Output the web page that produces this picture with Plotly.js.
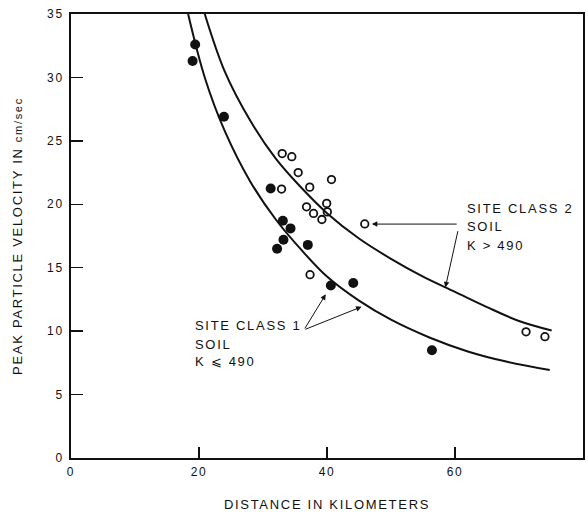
<!DOCTYPE html>
<html>
<head>
<meta charset="utf-8">
<script src="https://cdn.plot.ly/plotly-3.0.1.min.js"></script>
<style>
  html, body { margin: 0; padding: 0; background: #fff; }
  #chart { width: 588px; height: 512px; }
  #chart .main-svg text { letter-spacing: 1.7px; }
</style>
</head>
<body>
<div id="chart"></div>
<script>
// Site class 1 soil (K <= 490), filled circles
const class1X = [19.4, 19.0, 23.9, 31.2, 33.1, 34.3, 33.2, 32.2, 37.0, 40.6, 44.1, 56.4];
const class1Y = [32.6, 31.3, 26.9, 21.25, 18.7, 18.1, 17.2, 16.5, 16.8, 13.6, 13.8, 8.5];

// Site class 2 soil (K > 490), open circles
const class2X = [33.0, 34.5, 35.5, 40.7, 37.3, 32.9, 39.95, 36.8, 37.9, 40.05, 39.2, 45.9, 37.35, 71.1, 74.05];
const class2Y = [24.0, 23.75, 22.5, 21.95, 21.35, 21.2, 20.07, 19.8, 19.28, 19.4, 18.8, 18.45, 14.45, 9.95, 9.56];

// Fitted curves
const curve1X = [18.3, 20.9, 24, 28, 32, 36, 40, 45, 50, 56, 62, 68, 74.8];
const curve1Y = [35.0, 30.0, 25.8, 21.8, 18.8, 16.4, 14.3, 12.4, 10.9, 9.5, 8.4, 7.6, 6.93];

const curve2X = [20.9, 24, 28, 32, 36, 40, 45, 50, 55, 60, 65, 70, 75.1];
const curve2Y = [35.0, 30.5, 26.6, 23.6, 21.3, 19.3, 17.3, 15.7, 14.3, 13.1, 11.9, 10.8, 10.05];

const xTicks = [0, 20, 40, 60, 80];
const yTicks = [0, 5, 10, 15, 20, 25, 30, 35];

const labelClass2 = ['SITE CLASS 2', 'SOIL', 'K &gt; 490'];
const labelClass1 = ['SITE CLASS 1', 'SOIL', 'K ⩽ 490'];

const FONT = 'Liberation Sans, Arial, Helvetica, sans-serif';
const INK = '#111';

const traces = [
  { x: curve1X, y: curve1Y, mode: 'lines', line: { color: INK, width: 2, shape: 'spline', smoothing: 1 }, hoverinfo: 'skip', showlegend: false },
  { x: curve2X, y: curve2Y, mode: 'lines', line: { color: INK, width: 2, shape: 'spline', smoothing: 1 }, hoverinfo: 'skip', showlegend: false },
  { x: class1X, y: class1Y, mode: 'markers', name: 'Site class 1',
    marker: { symbol: 'circle', size: 10, color: INK }, showlegend: false },
  { x: class2X, y: class2Y, mode: 'markers', name: 'Site class 2',
    marker: { symbol: 'circle-open', size: 7.5, color: INK, line: { width: 1.8, color: INK } }, showlegend: false }
];

function textAnn(txt, x, y) {
  return { x: x, y: y, xref: 'x', yref: 'y', text: txt, showarrow: false, align: 'left',
           xanchor: 'left', yanchor: 'middle', font: { family: FONT, size: 13, color: INK } };
}
function arrowAnn(xTail, yTail, xTip, yTip) {
  return { x: xTip, y: yTip, ax: xTail, ay: yTail, xref: 'x', yref: 'y', axref: 'x', ayref: 'y',
           text: '', showarrow: true, arrowhead: 2, arrowsize: 1.1, arrowwidth: 1, arrowcolor: INK, standoff: 0 };
}

const annotations = [
  textAnn(labelClass2[0], 61.5, 19.7),
  textAnn(labelClass2[1], 61.5, 18.28),
  textAnn(labelClass2[2], 61.5, 16.78),
  textAnn(labelClass1[0], 19.0, 10.43),
  textAnn(labelClass1[1], 19.0, 8.98),
  textAnn(labelClass1[2], 19.0, 7.59),
  arrowAnn(60.5, 18.44, 47.0, 18.44),
  arrowAnn(60.5, 18.0, 58.5, 13.45),
  arrowAnn(36.4, 10.1, 39.8, 12.9),
  arrowAnn(36.4, 10.1, 45.4, 11.92)
];

const layout = {
  width: 588, height: 512,
  margin: { l: 71, r: 5, t: 14, b: 54 },
  paper_bgcolor: '#fff', plot_bgcolor: '#fff',
  font: { family: FONT, size: 12, color: INK },
  showlegend: false,
  xaxis: {
    range: [0, 80], tickvals: xTicks, ticktext: xTicks.map(String),
    ticks: 'inside', ticklen: 11, tickwidth: 1.5, tickcolor: INK,
    showline: true, linewidth: 1.8, linecolor: INK, mirror: true,
    showgrid: false, zeroline: false, ticklabelstandoff: 2,
    tickfont: { family: FONT, size: 12, color: INK },
    title: { text: 'DISTANCE IN KILOMETERS', font: { family: FONT, size: 13, color: INK }, standoff: 28 }
  },
  yaxis: {
    range: [0, 35], tickvals: yTicks, ticktext: yTicks.map(String),
    ticks: 'inside', ticklen: 12, tickwidth: 1.5, tickcolor: INK,
    showline: true, linewidth: 1.8, linecolor: INK, mirror: true,
    showgrid: false, zeroline: false, ticklabelstandoff: 3,
    tickfont: { family: FONT, size: 12, color: INK },
    title: { text: 'PEAK PARTICLE VELOCITY IN <span style="font-size:11px">cm/sec</span>',
             font: { family: FONT, size: 13, color: INK }, standoff: 25 }
  },
  annotations: annotations
};

Plotly.newPlot('chart', traces, layout, { staticPlot: true, displayModeBar: false });
</script>
</body>
</html>
